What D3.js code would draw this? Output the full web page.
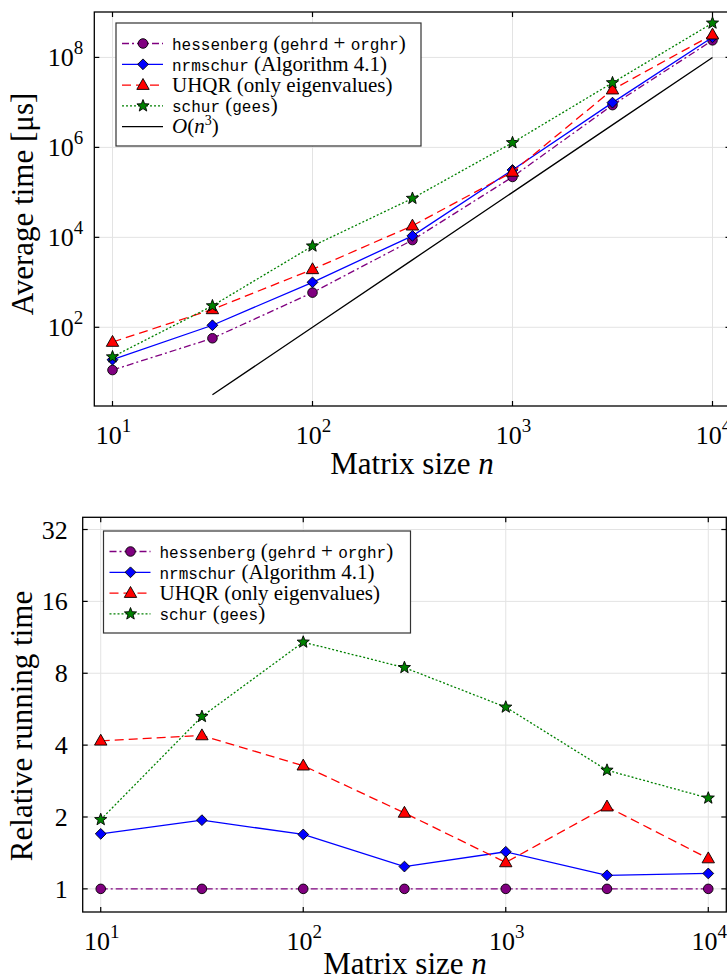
<!DOCTYPE html>
<html lang="en">
<head>
<meta charset="UTF-8">
<title>Timing benchmark</title>
<script src="https://d3js.org/d3.v7.min.js"></script>
<style>
  body { margin: 0; background: #fff; }
  text { font-family: "Liberation Serif", "DejaVu Serif", serif; fill: #000; }
  .mono { font-family: "Liberation Mono", "DejaVu Sans Mono", monospace; }
</style>
</head>
<body>
<script>
// matrix sizes n (x values)
var sizes = [10, 31.6, 100, 316, 1000, 3162, 10000];

// average time in microseconds
var hessTime  = [11.2, 57, 590, 8700, 2.2e5, 8.7e6, 2.4e8];
var nrmTime   = [19, 111, 1000, 10800, 3.15e5, 9.9e6, 2.8e8];
var uhqrTime  = [47, 250, 1940, 18100, 2.84e5, 1.92e7, 3.2e8];
var schurTime = [22, 300, 6400, 73500, 1.27e6, 2.73e7, 5.8e8];
var cubicTime = [null, 3.16, 100, 3160, 1e5, 3.16e6, 1e8];

// running time relative to hessenberg, bottom panel
var hessRel  = [1, 1, 1, 1, 1, 1, 1];
var nrmRel   = [1.70, 1.94, 1.69, 1.24, 1.43, 1.14, 1.16];
var uhqrRel  = [4.17, 4.39, 3.28, 2.08, 1.29, 2.21, 1.34];
var schurRel = [1.95, 5.27, 10.8, 8.45, 5.77, 3.14, 2.40];

var xTicks = [10, 100, 1000, 10000];
var yTicksTop = [1e2, 1e4, 1e6, 1e8];
var yTicksBottom = [1, 2, 4, 8, 16, 32];

// legend labels: [text, mono?]
var labHess  = [["hessenberg", 1], [" (", 0], ["gehrd", 1], [" + ", 0], ["orghr", 1], [")", 0]];
var labNrm   = [["nrmschur", 1], [" (Algorithm 4.1)", 0]];
var labUhqr  = [["UHQR (only eigenvalues)", 0]];
var labSchur = [["schur", 1], [" (", 0], ["gees", 1], [")", 0]];

var svg = d3.select("body").append("svg")
    .attr("width", 727).attr("height", 980);

// series styles
var styles = {
    hess:  { color: "#800080", dash: "7,3,2,3", marker: "circle" },
    nrm:   { color: "#0000ff", dash: null, marker: "diamond" },
    uhqr:  { color: "#ff0000", dash: "9,5", marker: "triangle" },
    schur: { color: "#008000", dash: "2,2", marker: "star" },
    cubic: { color: "#000000", dash: null, marker: null }
};

function markerPath(type) {
    var p = d3.path();
    if (type == "circle") {
        p.arc(0, 0, 4.8, 0, 2 * Math.PI);
    } else if (type == "diamond") {
        p.moveTo(0, -5.4); p.lineTo(5.4, 0); p.lineTo(0, 5.4); p.lineTo(-5.4, 0); p.closePath();
    } else if (type == "triangle") {
        p.moveTo(0, -6.6); p.lineTo(6.2, 4.3); p.lineTo(-6.2, 4.3); p.closePath();
    } else if (type == "star") {
        for (var i = 0; i < 10; i++) {
            var a = -Math.PI / 2 + i * Math.PI / 5,
                r = (i % 2 == 0) ? 6.4 : 2.7;
            if (i == 0) p.moveTo(r * Math.cos(a), r * Math.sin(a));
            else p.lineTo(r * Math.cos(a), r * Math.sin(a));
        }
        p.closePath();
    }
    return p.toString();
}

function drawPanel(o) {
    var g = svg.append("g");
    var x = o.x, y = o.y;
    var x0 = x.range()[0], x1 = x.range()[1],
        y0 = y.range()[0], y1 = y.range()[1];

    // clip for plot area
    var clipId = "clip" + o.id;
    svg.append("clipPath").attr("id", clipId)
        .append("rect").attr("x", x0).attr("y", y1)
        .attr("width", x1 - x0).attr("height", y0 - y1);

    // grid
    g.selectAll(".gx").data(xTicks).enter().append("line")
        .attr("x1", d => x(d)).attr("x2", d => x(d))
        .attr("y1", y0).attr("y2", y1)
        .attr("stroke", "#e3e3e3").attr("stroke-width", 1);
    g.selectAll(".gy").data(o.yTicks).enter().append("line")
        .attr("y1", d => y(d)).attr("y2", d => y(d))
        .attr("x1", x0).attr("x2", x1)
        .attr("stroke", "#e3e3e3").attr("stroke-width", 1);

    // series lines and markers
    var plot = g.append("g").attr("clip-path", "url(#" + clipId + ")");
    o.series.forEach(function(s) {
        var st = styles[s.key];
        var pts = sizes.map((n, i) => [n, s.values[i]]).filter(d => d[1] != null);
        var line = d3.line().x(d => x(d[0])).y(d => y(d[1]));
        plot.append("path").attr("d", line(pts))
            .attr("fill", "none").attr("stroke", st.color)
            .attr("stroke-width", 1.3)
            .attr("stroke-dasharray", st.dash);
        if (st.marker) {
            plot.selectAll(null).data(pts).enter().append("path")
                .attr("d", markerPath(st.marker))
                .attr("transform", d => "translate(" + x(d[0]) + "," + y(d[1]) + ")")
                .attr("fill", st.color).attr("stroke", "#000").attr("stroke-width", 0.9);
        }
    });

    // frame and ticks (all four sides, pointing inward)
    g.append("rect").attr("x", x0).attr("y", y1)
        .attr("width", x1 - x0).attr("height", y0 - y1)
        .attr("fill", "none").attr("stroke", "#000").attr("stroke-width", 1.3);
    var tl = 5;
    xTicks.forEach(function(d) {
        g.append("line").attr("x1", x(d)).attr("x2", x(d)).attr("y1", y0).attr("y2", y0 - tl).attr("stroke", "#000").attr("stroke-width", 1.2);
        g.append("line").attr("x1", x(d)).attr("x2", x(d)).attr("y1", y1).attr("y2", y1 + tl).attr("stroke", "#000").attr("stroke-width", 1.2);
    });
    o.yTicks.forEach(function(d) {
        g.append("line").attr("y1", y(d)).attr("y2", y(d)).attr("x1", x0).attr("x2", x0 + tl).attr("stroke", "#000").attr("stroke-width", 1.2);
        g.append("line").attr("y1", y(d)).attr("y2", y(d)).attr("x1", x1).attr("x2", x1 - tl).attr("stroke", "#000").attr("stroke-width", 1.2);
    });

    // x tick labels 10^k
    xTicks.forEach(function(d) {
        var t = g.append("text").attr("x", x(d) + 1).attr("y", y0 + 38)
            .attr("text-anchor", "middle").attr("font-size", 26);
        t.append("tspan").text("10");
        t.append("tspan").attr("dy", -12).attr("font-size", 19).text(Math.round(Math.log10(d)));
    });

    // y tick labels
    o.yTicks.forEach(function(d) {
        var t = g.append("text").attr("x", x0 - o.yLabelGap).attr("y", y(d) + 9)
            .attr("text-anchor", "end").attr("font-size", 26);
        if (o.pow10) {
            t.append("tspan").text("10");
            t.append("tspan").attr("dy", -12).attr("font-size", 19).text(Math.round(Math.log10(d)));
        } else {
            t.text(d);
        }
    });

    // axis titles
    var xl = g.append("text").attr("x", o.xTitleX).attr("y", y0 + o.xTitleDy)
        .attr("text-anchor", "middle").attr("font-size", 31);
    xl.append("tspan").text("Matrix size ");
    xl.append("tspan").attr("font-style", "italic").text("n");

    g.append("text")
        .attr("transform", "translate(" + o.yTitleX + "," + o.yTitleY + ") rotate(-90)")
        .attr("text-anchor", "middle").attr("font-size", 31)
        .text(o.yTitle);

    // legend
    var lg = g.append("g");
    var L = o.legend;
    lg.append("rect").attr("x", L.x).attr("y", L.y).attr("width", L.w).attr("height", L.h)
        .attr("fill", "#fff").attr("stroke", "#333").attr("stroke-width", 1.2);
    o.series.forEach(function(s, i) {
        var st = styles[s.key];
        var cy = L.y + 20.5 + i * 20.8;
        lg.append("line").attr("x1", L.x + 6).attr("x2", L.x + 47)
            .attr("y1", cy).attr("y2", cy)
            .attr("stroke", st.color).attr("stroke-width", 1.3)
            .attr("stroke-dasharray", st.dash);
        if (st.marker) {
            lg.append("path").attr("d", markerPath(st.marker))
                .attr("transform", "translate(" + (L.x + 27) + "," + cy + ")")
                .attr("fill", st.color).attr("stroke", "#000").attr("stroke-width", 0.9);
        }
        var t = lg.append("text").attr("x", L.x + 56).attr("y", cy + 6.5).attr("font-size", 21);
        s.label.forEach(function(part) {
            var sp = t.append("tspan").text(part[0]);
            if (part[1] == 1) sp.attr("class", "mono").attr("font-size", 16);
        });
        if (s.key == "cubic") {
            t.append("tspan").attr("font-style", "italic").text("O");
            t.append("tspan").text("(");
            t.append("tspan").attr("font-style", "italic").text("n");
            t.append("tspan").attr("dy", -8).attr("font-size", 14).text("3");
            t.append("tspan").attr("dy", 8).text(")");
        }
    });
}

drawPanel({
    id: "top",
    x: d3.scaleLog().domain([Math.pow(10, 0.909), Math.pow(10, 4.09)]).range([94.3, 730.5]),
    y: d3.scaleLog().domain([Math.pow(10, 0.25), Math.pow(10, 9.01)]).range([406, 12]),
    yTicks: yTicksTop,
    pow10: true,
    yLabelGap: 11,
    yTitle: "Average time [\u03bcs]",
    yTitleX: 33,
    yTitleY: 204,
    xTitleX: 412,
    xTitleDy: 68,
    legend: { x: 116, y: 23, w: 305, h: 123 },
    series: [
        { key: "hess", values: hessTime, label: labHess },
        { key: "nrm", values: nrmTime, label: labNrm },
        { key: "uhqr", values: uhqrTime, label: labUhqr },
        { key: "schur", values: schurTime, label: labSchur },
        { key: "cubic", values: cubicTime, label: [] }
    ]
});

drawPanel({
    id: "bottom",
    x: d3.scaleLog().domain([Math.pow(10, 0.911), Math.pow(10, 4.089)]).range([82.7, 726.3]),
    y: d3.scaleLog().base(2).domain([0.8, 36]).range([912, 517.3]),
    yTicks: yTicksBottom,
    pow10: false,
    yLabelGap: 15,
    yTitle: "Relative running time",
    yTitleX: 32,
    yTitleY: 726,
    xTitleX: 405,
    xTitleDy: 62,
    legend: { x: 103.5, y: 531, w: 307, h: 102 },
    series: [
        { key: "hess", values: hessRel, label: labHess },
        { key: "nrm", values: nrmRel, label: labNrm },
        { key: "uhqr", values: uhqrRel, label: labUhqr },
        { key: "schur", values: schurRel, label: labSchur }
    ]
});
</script>
</body>
</html>
